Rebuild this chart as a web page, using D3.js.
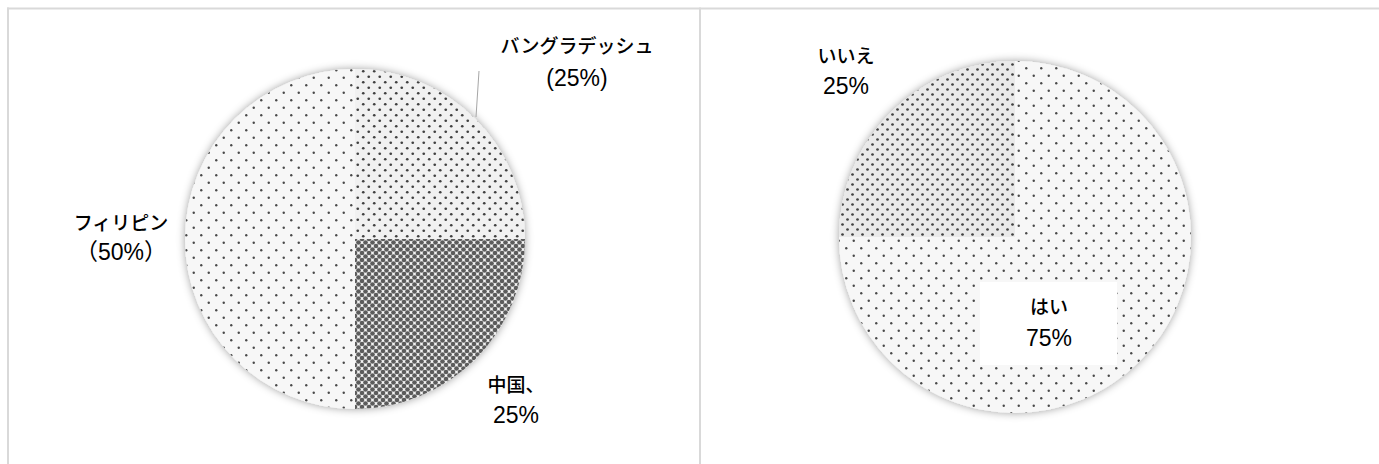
<!DOCTYPE html>
<html>
<head>
<meta charset="utf-8">
<script src="https://cdn.jsdelivr.net/npm/d3@7"></script>
<style>
  html, body { margin: 0; padding: 0; background: #fff; }
  svg { display: block; }
</style>
</head>
<body>
<svg id="chart" width="1379" height="464"></svg>
<script>
// ---- data ----
const leftCategories = ["バングラデッシュ", "中国", "フィリピン"];
const leftValues = [25, 25, 50];
const leftNameLines = ["バングラデッシュ", "中国、", "フィリピン"];
const leftPctLines = ["(25%)", "25%", "（50%）"];

const rightCategories = ["はい", "いいえ"];
const rightValues = [75, 25];
const rightNameLines = ["はい", "いいえ"];
const rightPctLines = ["75%", "25%"];

// ---- layout / style ----
const W = 1379, H = 464;
const svg = d3.select("#chart");
const defs = svg.append("defs");

function pattern(id, size, bg, dots) {
  const p = defs.append("pattern").attr("id", id)
    .attr("patternUnits", "userSpaceOnUse")
    .attr("width", size).attr("height", size);
  p.append("rect").attr("width", size).attr("height", size).attr("fill", bg);
  dots.forEach(d => p.append("circle").attr("cx", d[0]).attr("cy", d[1]).attr("r", d[2]).attr("fill", d[3]));
}
// sparse dots (Philippines, はい)
pattern("pSparse", 15, "#f7f7f7", [[3.75, 3.75, 1.2, "#4a4a4a"], [11.25, 11.25, 1.2, "#4a4a4a"]]);
// medium dots (Bangladesh)
pattern("pMedium", 11, "#f1f1f1", [[2.75, 2.75, 1.35, "#3f3f3f"], [8.25, 8.25, 1.35, "#3f3f3f"]]);
// medium dots (いいえ)
pattern("pMedium2", 10, "#e9e9e9", [[2.5, 2.5, 1.35, "#3f3f3f"], [7.5, 7.5, 1.35, "#3f3f3f"]]);
// dense crosshatch (China)
const dc = "#5c5c5c", dr = 2.35;
pattern("pDense", 7, "#f2f2f2", [[0, 0, dr, dc], [7, 0, dr, dc], [0, 7, dr, dc], [7, 7, dr, dc], [3.5, 3.5, dr, dc]]);

const f = defs.append("filter").attr("id", "shadow")
  .attr("x", "-20%").attr("y", "-20%").attr("width", "140%").attr("height", "140%");
f.append("feDropShadow").attr("dx", 0).attr("dy", 0).attr("stdDeviation", 4.5)
  .attr("flood-color", "#000").attr("flood-opacity", 0.38);

// panel borders
const border = "#d9d9d9";
svg.append("line").attr("x1", 7).attr("x2", W).attr("y1", 8.5).attr("y2", 8.5).attr("stroke", border).attr("stroke-width", 2);
svg.append("line").attr("x1", 8).attr("x2", 8).attr("y1", 7.5).attr("y2", H).attr("stroke", border).attr("stroke-width", 2);
svg.append("line").attr("x1", 700).attr("x2", 700).attr("y1", 7.5).attr("y2", H).attr("stroke", border).attr("stroke-width", 2);

const nameFont = "'Noto Sans CJK JP', sans-serif";
const pctFont = "'Liberation Sans', 'Noto Sans CJK JP', sans-serif";

function drawPie(cfg) {
  const g = svg.append("g").attr("transform", `translate(${cfg.cx},${cfg.cy})`);
  const pie = d3.pie().sort(null).value(d => d.value);
  const arc = d3.arc().innerRadius(0).outerRadius(cfg.r);
  const data = cfg.categories.map((c, i) => ({ cat: c, value: cfg.values[i], i }));
  const arcs = pie(data);
  g.append("g").attr("filter", "url(#shadow)")
    .selectAll("path").data(arcs).join("path")
    .attr("d", arc)
    .attr("fill", d => `url(#${cfg.fills[d.data.i]})`);

  // leader lines
  (cfg.leaders || []).forEach(l => {
    g.append("line").attr("x1", l[0]).attr("y1", l[1]).attr("x2", l[2]).attr("y2", l[3])
      .attr("stroke", "#a6a6a6").attr("stroke-width", 1);
  });

  arcs.forEach(a => {
    const i = a.data.i;
    const lay = cfg.labelLayout[i];
    const lg = g.append("g");
    if (lay.box) {
      lg.append("rect").attr("x", lay.box[0]).attr("y", lay.box[1])
        .attr("width", lay.box[2]).attr("height", lay.box[3]).attr("fill", "#fff");
    }
    lg.append("text").attr("x", lay.x).attr("y", lay.y1)
      .attr("text-anchor", "middle").attr("dominant-baseline", "central")
      .attr("font-family", nameFont).attr("font-size", 19).attr("font-weight", 500).attr("fill", "#000")
      .text(cfg.names[i]);
    lg.append("text").attr("x", lay.x).attr("y", lay.y2)
      .attr("text-anchor", "middle").attr("dominant-baseline", "central")
      .attr("font-family", pctFont).attr("font-size", 23).attr("fill", "#000")
      .text(cfg.pcts[i]);
  });
}

drawPie({
  cx: 355, cy: 239, r: 170,
  categories: leftCategories, values: leftValues,
  names: leftNameLines, pcts: leftPctLines,
  fills: ["pMedium", "pDense", "pSparse"],
  leaders: [[124, -168, 121, -122]],
  labelLayout: [
    { x: 222, y1: -194.5, y2: -161 },
    { x: 161, y1: 144, y2: 176 },
    { x: -234, y1: -17.5, y2: 13 }
  ]
});

drawPie({
  cx: 1015, cy: 237, r: 176,
  categories: rightCategories, values: rightValues,
  names: rightNameLines, pcts: rightPctLines,
  fills: ["pSparse", "pMedium2"],
  labelLayout: [
    { x: 34, y1: 68, y2: 100.5, box: [-35, 45, 137, 83] },
    { x: -169, y1: -182.5, y2: -151.5 }
  ]
});
</script>
</body>
</html>
